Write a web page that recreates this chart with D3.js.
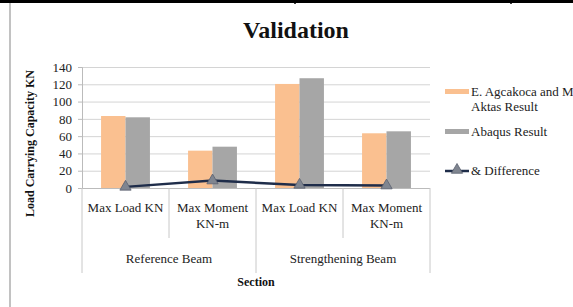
<!DOCTYPE html>
<html><head><meta charset="utf-8">
<script src="https://cdn.jsdelivr.net/npm/d3@7"></script>
<style>body{margin:0;background:#fff}svg{display:block}svg text{font-family:"Liberation Serif","Times New Roman",serif !important}</style>
</head><body><svg id="c" width="573" height="307"></svg>
<script>
const categories = ["Max Load KN", "Max Moment KN-m", "Max Load KN", "Max Moment KN-m"];
const groups = ["Reference Beam", "Strengthening Beam"];
const seriesNames = ["E. Agcakoca and M Aktas Result", "Abaqus Result", "& Difference"];
const agcakoca = [83.3, 43.2, 120.4, 63.3];
const abaqus = [81.8, 47.8, 127, 65.6];
const difference = [1.3, 8.6, 3.6, 2.8];
const yTicks = [0, 20, 40, 60, 80, 100, 120, 140];

const svg = d3.select("#c");
const FF = "Liberation Serif";
const L = 82, R = 430, T = 67, B = 188;
const x = d3.scaleBand().domain(d3.range(categories.length)).range([L, R]);
const xi = d3.scaleBand().domain([0, 1]).range([0, x.bandwidth()]).paddingOuter(0.78).paddingInner(0);
const y = d3.scaleLinear().domain([0, 140]).range([B, T]);
const txt = "#222";

// frame
svg.append("line").attr("x1", 0).attr("x2", 573).attr("y1", 1.5).attr("y2", 1.5).attr("stroke", "#000").attr("stroke-width", 3);
[295, 511].forEach(v => svg.append("line").attr("x1", v).attr("x2", v).attr("y1", 0).attr("y2", 4).attr("stroke", "#000").attr("stroke-width", 1.5));
svg.append("line").attr("x1", 10).attr("x2", 10).attr("y1", 3).attr("y2", 307).attr("stroke", "#999").attr("stroke-width", 1.2);

// title
svg.append("text").attr("x", 296).attr("y", 38).attr("text-anchor", "middle").attr("font-family", FF).attr("font-size", 24).attr("font-weight", "bold").attr("fill", "#111").text("Validation");

// gridlines
svg.append("g").selectAll("line").data(yTicks.slice(1)).join("line")
  .attr("x1", L).attr("x2", R).attr("y1", d => y(d) + 0.5).attr("y2", d => y(d) + 0.5)
  .attr("stroke", "#d4d4d4").attr("stroke-width", 1);

// y axis
const ya = svg.append("g").attr("transform", `translate(${L},0)`)
  .call(d3.axisLeft(y).tickValues(yTicks).tickSize(4).tickPadding(6));
ya.attr("font-family", FF).attr("font-size", 13);
ya.select(".domain").attr("stroke", "#bbb");
ya.selectAll(".tick line").attr("stroke", "#bbb");
ya.selectAll(".tick text").attr("fill", txt);

// bars
const cols = ["#fac090", "#a6a6a6"];
[agcakoca, abaqus].forEach((s, k) => {
  svg.append("g").selectAll("rect").data(s).join("rect")
    .attr("x", (d, i) => x(i) + xi(k)).attr("width", xi.bandwidth())
    .attr("y", d => y(d)).attr("height", d => y(0) - y(d)).attr("fill", cols[k]);
});

// bottom axis line
svg.append("line").attr("x1", L).attr("x2", R).attr("y1", B + 0.5).attr("y2", B + 0.5).attr("stroke", "#bbb");

// category dividers
d3.range(categories.length + 1).forEach(i => {
  const xv = i < categories.length ? x(i) : R;
  const long = i % 2 === 0;
  svg.append("line").attr("x1", xv).attr("x2", xv).attr("y1", B).attr("y2", long ? 273 : 238)
    .attr("stroke", "#c8c8c8").attr("stroke-width", 1);
});

// category labels
categories.forEach((c, i) => {
  const cx = x(i) + x.bandwidth() / 2;
  const lines = c === "Max Moment KN-m" ? ["Max Moment", "KN-m"] : [c];
  lines.forEach((ln, j) => {
    svg.append("text").attr("x", cx).attr("y", 212 + j * 16).attr("text-anchor", "middle")
      .attr("font-family", FF).attr("font-size", 13).attr("fill", txt).text(ln);
  });
});
groups.forEach((g, k) => {
  svg.append("text").attr("x", x(k * 2) + x.bandwidth()).attr("y", 263).attr("text-anchor", "middle")
    .attr("font-family", FF).attr("font-size", 13).attr("fill", txt).text(g);
});
svg.append("text").attr("x", (L + R) / 2).attr("y", 286).attr("text-anchor", "middle")
  .attr("font-family", FF).attr("font-size", 12).attr("font-weight", "bold").attr("fill", "#111").text("Section");

// y title
svg.append("text").attr("transform", `translate(34,${(T + B) / 2 + 16}) rotate(-90)`).attr("text-anchor", "middle")
  .attr("font-family", FF).attr("font-size", 12).attr("font-weight", "bold").attr("fill", "#111").text("Load Carrying Capacity KN");

// difference line
const lineCol = "#1f2d4a";
const cx = i => x(i) + x.bandwidth() / 2;
svg.append("path").datum(difference)
  .attr("d", d3.line().x((d, i) => cx(i)).y(d => y(d)))
  .attr("fill", "none").attr("stroke", lineCol).attr("stroke-width", 2.5);
const tri = d3.symbol().type(d3.symbolTriangle).size(55);
svg.append("g").selectAll("path").data(difference).join("path")
  .attr("d", tri).attr("transform", (d, i) => `translate(${cx(i)},${y(d)})`)
  .attr("fill", "#7f8590").attr("stroke", "#5a6170").attr("stroke-width", 0.8);

// legend
const lg = svg.append("g").attr("font-family", FF).attr("font-size", 13).attr("fill", txt);
lg.append("rect").attr("x", 445).attr("y", 89).attr("width", 24).attr("height", 5).attr("fill", cols[0]);
lg.append("text").attr("x", 471).attr("y", 96).text("E. Agcakoca and M");
lg.append("text").attr("x", 471).attr("y", 111).text("Aktas Result");
lg.append("rect").attr("x", 445).attr("y", 129).attr("width", 24).attr("height", 5).attr("fill", cols[1]);
lg.append("text").attr("x", 471).attr("y", 136).text(seriesNames[1]);
lg.append("line").attr("x1", 445).attr("x2", 469).attr("y1", 171).attr("y2", 171).attr("stroke", lineCol).attr("stroke-width", 2.5);
lg.append("path").attr("d", tri).attr("transform", "translate(457,170)").attr("fill", "#7f8590").attr("stroke", "#5a6170").attr("stroke-width", 0.8);
lg.append("text").attr("x", 471).attr("y", 175).text(seriesNames[2]);
</script></body></html>
